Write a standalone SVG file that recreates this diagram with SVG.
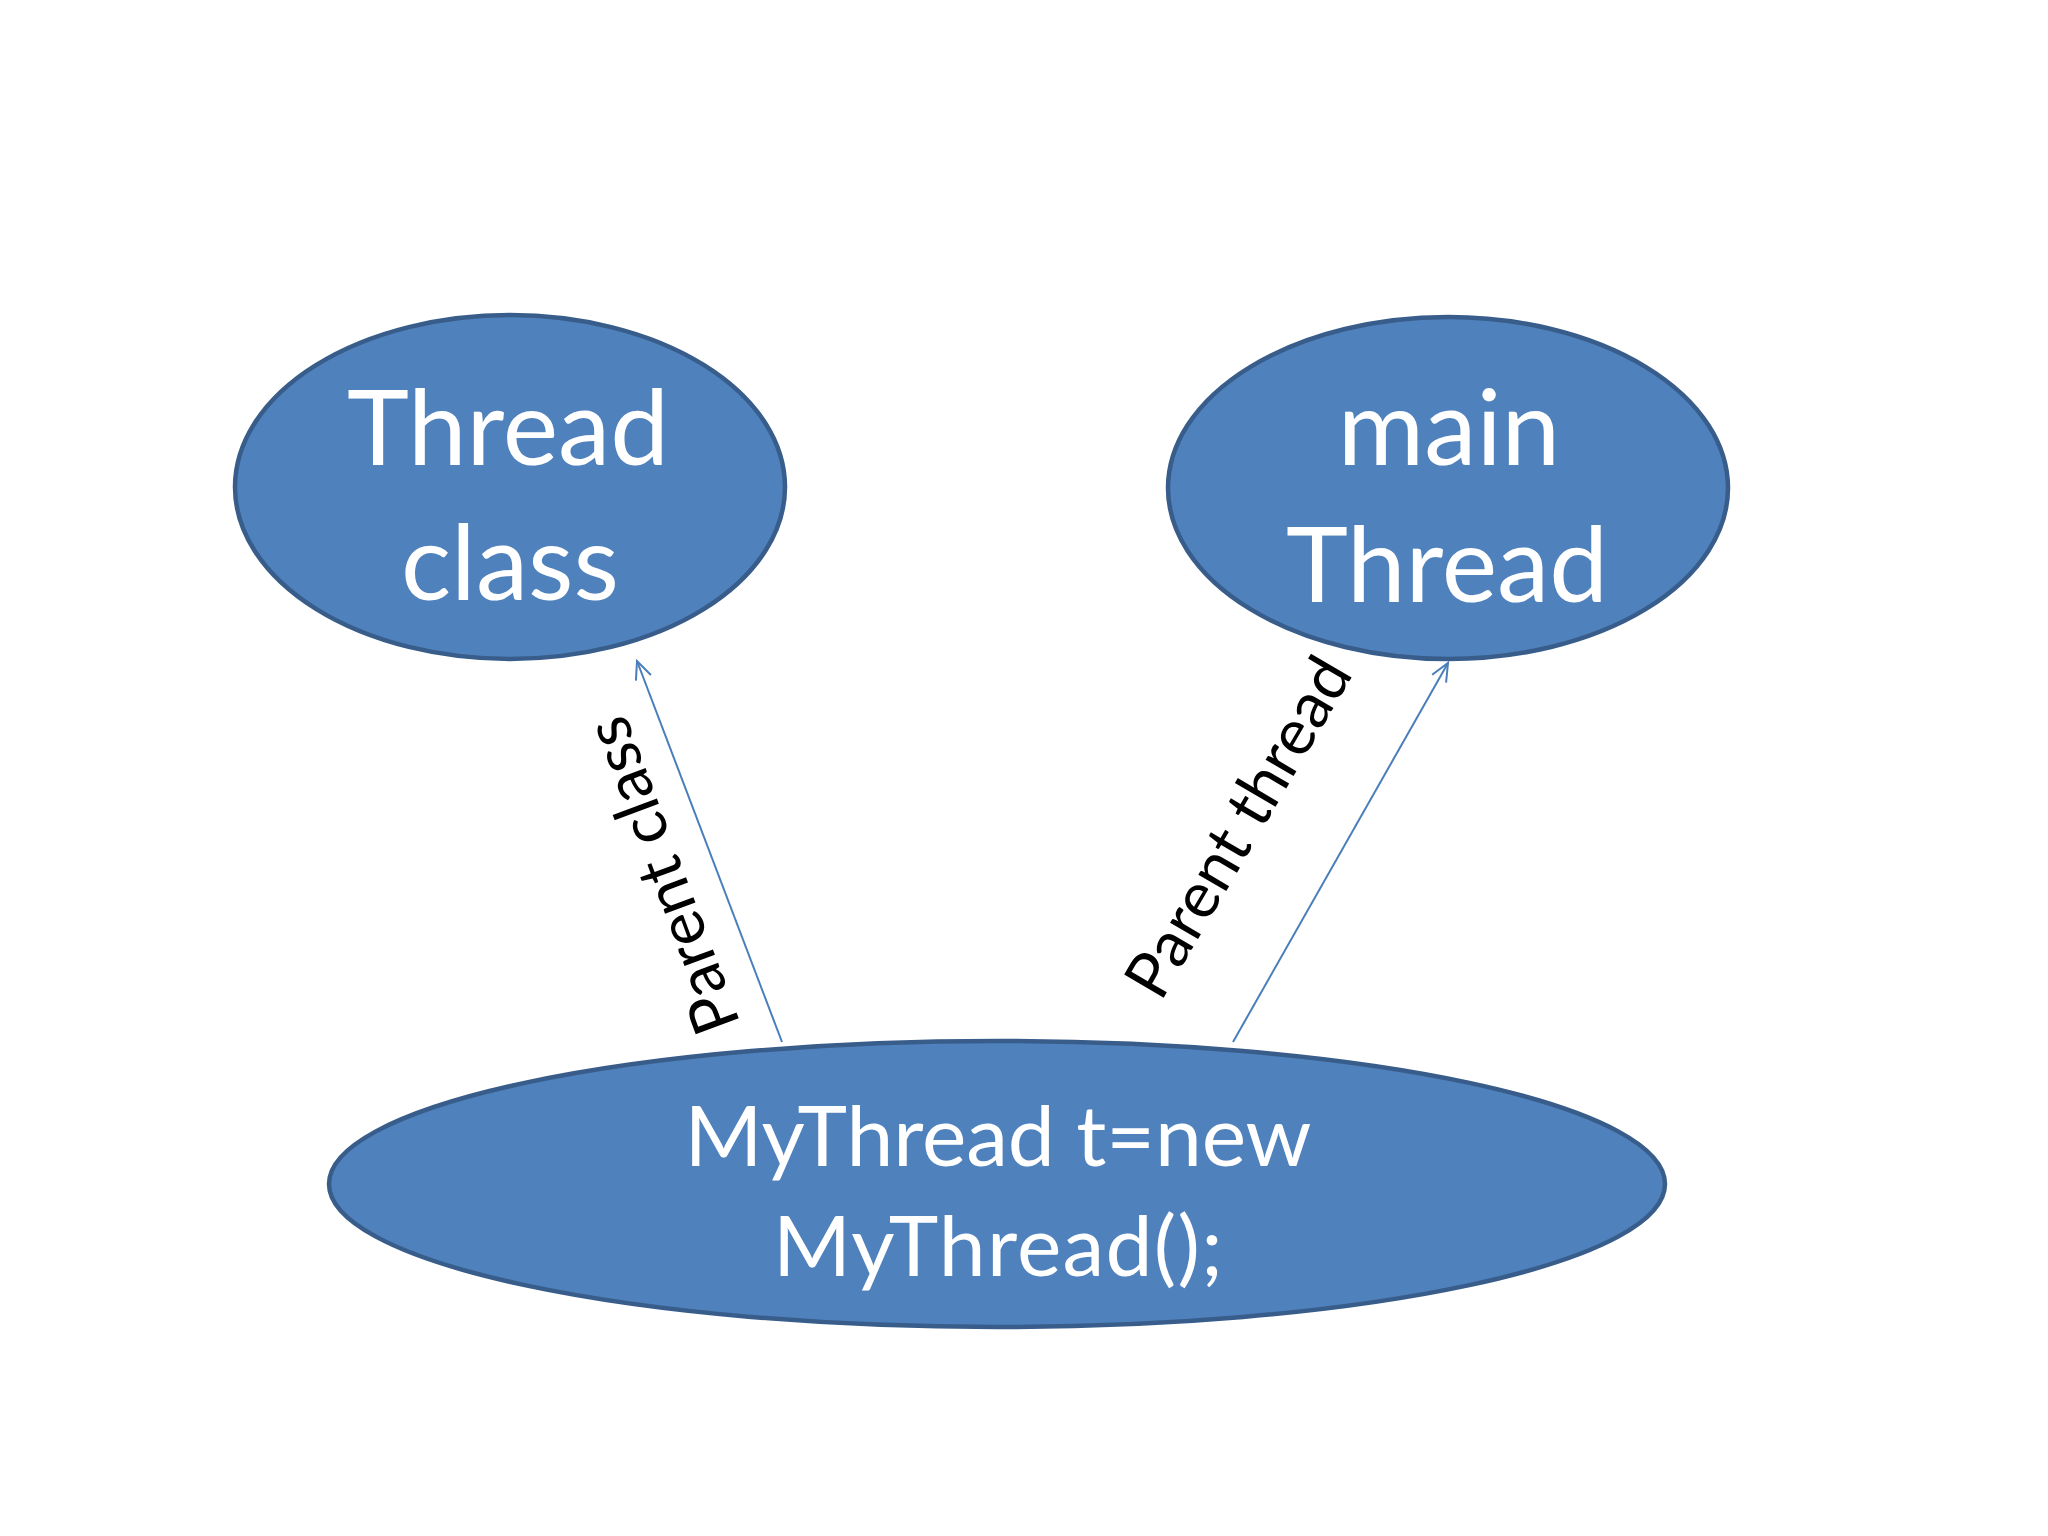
<svg xmlns="http://www.w3.org/2000/svg" width="2048" height="1536" viewBox="0 0 2048 1536">
  <style>
    .node { fill: #4f81bd; stroke: #385d8a; stroke-width: 4.5; }
    .ntext { font-family: Lato, "Liberation Sans", sans-serif; fill: #ffffff; text-anchor: middle; }
    .big { font-size: 105px; }
    .mid { font-size: 84px; }
    .edge { stroke: #4a7ebb; stroke-width: 2; fill: none; marker-end: url(#arr); }
    .lbl { font-family: Lato, "Liberation Sans", sans-serif; font-size: 64px; fill: #000000; text-anchor: middle; }
  </style>
  <defs>
    <marker id="arr" markerUnits="userSpaceOnUse" viewBox="-2 -10 24 20" refX="18" refY="0" markerWidth="24" markerHeight="20" orient="auto">
      <path d="M 0,-8 L 18,0 L 0,8" fill="none" stroke="#4a7ebb" stroke-width="2"/>
    </marker>
  </defs>
  <rect width="2048" height="1536" fill="#ffffff"/>
  <g id="connectors">
    <line class="edge" x1="782" y1="1042" x2="637" y2="661"/>
    <line class="edge" x1="1233" y1="1042" x2="1448" y2="663"/>
    <text class="lbl" transform="translate(664,875) rotate(-110.4)" x="0" y="20">Parent class</text>
    <text class="lbl" transform="translate(1240,828) rotate(-59.6)" x="0" y="20">Parent thread</text>
  </g>
  <g id="thread-class">
    <ellipse class="node" cx="510" cy="487" rx="275" ry="172"/>
    <text class="ntext big" x="508" y="465">Thread</text>
    <text class="ntext big" x="510" y="600">class</text>
  </g>
  <g id="main-thread">
    <ellipse class="node" cx="1448" cy="488" rx="280" ry="171"/>
    <text class="ntext big" x="1449" y="465">main</text>
    <text class="ntext big" x="1447" y="602">Thread</text>
  </g>
  <g id="mythread">
    <ellipse class="node" cx="997" cy="1184" rx="668" ry="143"/>
    <text class="ntext mid" x="998" y="1166" textLength="627">MyThread t=new</text>
    <text class="ntext mid" x="998" y="1276" textLength="450">MyThread();</text>
  </g>
</svg>
